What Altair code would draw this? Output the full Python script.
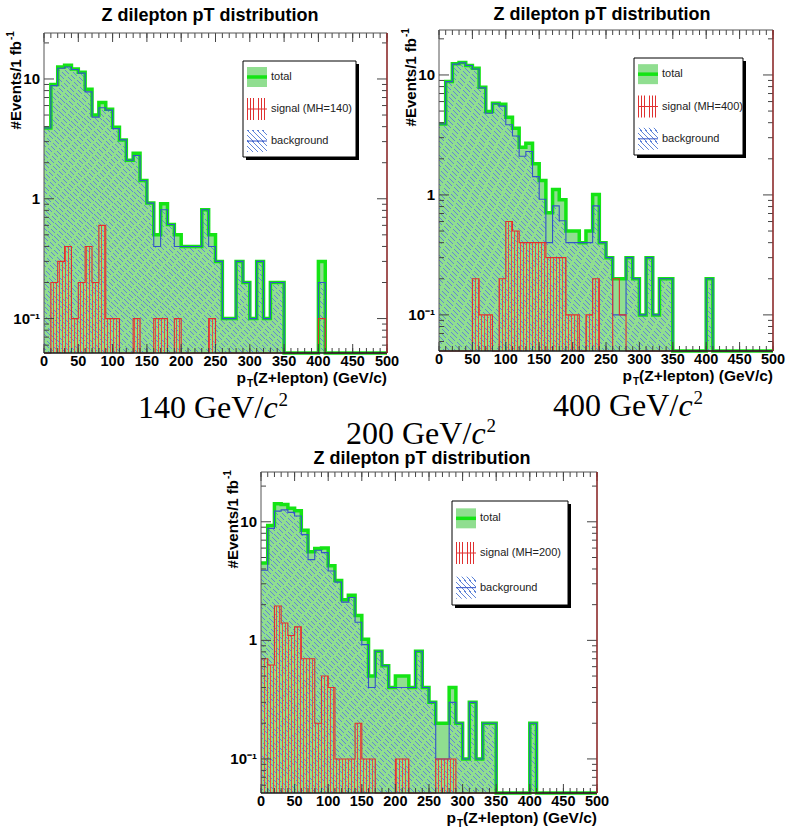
import altair as alt
import pandas as pd

# ---------------- data ----------------
bin_edges = list(range(0, 500, 10))

background = [3.9, 8.8, 12.3, 12.6, 12.0, 11.2, 7.8, 4.8, 5.75, 5.5,
              3.85, 3.1, 2.1, 2.3, 1.42, 0.92, 0.4, 0.81, 0.61, 0.4,
              0.4, 0.4, 0.4, 0.81, 0.4, 0.3, 0.1, 0.1, 0.3, 0.2,
              0.1, 0.3, 0.1, 0.2, 0.2, 0, 0, 0, 0, 0,
              0.2, 0, 0, 0, 0, 0, 0, 0, 0, 0]

signal_140 = [0, 0.2, 0.3, 0.4, 0.1, 0.2, 0.4, 0.2, 0.6, 0.1,
              0.1, 0, 0, 0.1, 0, 0, 0.1, 0.1, 0, 0.1,
              0, 0, 0, 0, 0.1, 0, 0, 0, 0, 0,
              0, 0, 0, 0, 0, 0, 0, 0, 0, 0,
              0.1, 0, 0, 0, 0, 0, 0, 0, 0, 0]
total_140 = [3.9, 9.0, 12.6, 13.0, 12.1, 11.4, 8.2, 5.0, 6.35, 5.6,
             3.95, 3.1, 2.1, 2.4, 1.42, 0.92, 0.5, 0.91, 0.61, 0.5,
             0.4, 0.4, 0.4, 0.81, 0.5, 0.3, 0.1, 0.1, 0.3, 0.2,
             0.1, 0.3, 0.1, 0.2, 0.2, 0, 0, 0, 0, 0,
             0.3, 0, 0, 0, 0, 0, 0, 0, 0, 0]

signal_400 = [0, 0, 0, 0, 0, 0.2, 0.1, 0.1, 0, 0.2,
              0.6, 0.5, 0.4, 0.4, 0.4, 0.4, 0.3, 0.3, 0.3, 0.1,
              0.1, 0, 0.1, 0.2, 0, 0, 0.2, 0.1, 0, 0,
              0, 0, 0, 0, 0, 0, 0, 0, 0, 0,
              0, 0, 0, 0, 0, 0, 0, 0, 0, 0]
total_400 = [3.9, 8.8, 12.4, 12.7, 12.0, 11.4, 7.9, 4.95, 5.8, 5.7,
             4.45, 3.6, 2.5, 2.7, 1.82, 1.32, 0.71, 1.11, 0.91, 0.5,
             0.5, 0.4, 0.5, 1.01, 0.4, 0.3, 0.2, 0.2, 0.3, 0.2,
             0.1, 0.3, 0.1, 0.2, 0.2, 0, 0, 0, 0, 0,
             0.2, 0, 0, 0, 0, 0, 0, 0, 0, 0]

signal_200 = [0.7, 0.62, 1.95, 1.4, 1.1, 1.3, 0.7, 0.7, 0.2, 0.5,
              0.4, 0.1, 0.1, 0.1, 0.2, 0.1, 0.1, 0, 0, 0,
              0.1, 0.1, 0, 0, 0, 0, 0.1, 0.1, 0.1, 0,
              0, 0, 0, 0, 0, 0, 0, 0, 0, 0,
              0, 0, 0, 0, 0, 0, 0, 0, 0, 0]
total_200 = [4.5, 9.3, 14.2, 14.0, 13.0, 12.4, 8.5, 5.6, 5.95, 6.0,
             4.25, 3.2, 2.2, 2.4, 1.62, 1.02, 0.5, 0.81, 0.61, 0.4,
             0.5, 0.5, 0.4, 0.81, 0.4, 0.3, 0.2, 0.2, 0.4, 0.2,
             0.1, 0.3, 0.1, 0.2, 0.2, 0, 0, 0, 0, 0,
             0.2, 0, 0, 0, 0, 0, 0, 0, 0, 0]

x_major = [0, 50, 100, 150, 200, 250, 300, 350, 400, 450, 500]
x_major_labels = ["0", "50", "100", "150", "200", "250", "300", "350", "400", "450", "500"]
x_minor = list(range(0, 501, 10))
y_major = [0.1, 1, 10]
y_major_labels = ["10\u207b\u00b9", "1", "10"]
y_minor = [0.06, 0.07, 0.08, 0.09, 0.2, 0.3, 0.4, 0.5, 0.6, 0.7, 0.8, 0.9,
           2, 3, 4, 5, 6, 7, 8, 9, 20]
legend_labels = ["total", "signal (MH={m})", "background"]
plot_title = "Z dilepton pT distribution"

# ---------------- style ----------------
SANS = "Liberation Sans"
SERIF = "Liberation Serif"
GREEN_FILL = "#90de90"
GREEN_LINE = "#14e414"
BLUE = "#3454c8"
HATCH_BLUE = "#5f84d8"
HATCH_RED = "#e8503c"
RED = "#e03030"
TICK = "#444444"
CLEAR = "rgba(255,255,255,0)"


def stripes(color, n, frac, x1, y1, x2, y2):
    stops = []
    for i in range(n):
        a = round(i / n, 6)
        b = round((i + frac) / n, 6)
        c = round((i + 1) / n, 6)
        stops += [alt.GradientStop(color=color, offset=a),
                  alt.GradientStop(color=color, offset=b),
                  alt.GradientStop(color=CLEAR, offset=b),
                  alt.GradientStop(color=CLEAR, offset=c)]
    return alt.LinearGradient(gradient="linear", stops=stops, x1=x1, y1=y1, x2=x2, y2=y2)


def one():
    return pd.DataFrame({"k": [0]})


def vtext(text, x, y, **kw):
    return alt.Chart(one()).mark_text(text=text, **kw).encode(x=alt.value(x), y=alt.value(y))


def vrect(x, x2, y, y2, **kw):
    return alt.Chart(one()).mark_rect(**kw).encode(
        x=alt.value(x), x2=alt.value(x2), y=alt.value(y), y2=alt.value(y2))


def vrule(x, x2, y, y2, **kw):
    return alt.Chart(one()).mark_rule(**kw).encode(
        x=alt.value(x), x2=alt.value(x2), y=alt.value(y), y2=alt.value(y2))


panels = [
    dict(mass="140", signal=signal_140, total=total_140, x0=44, x1=387, y0=33, y1=353,
         ymin=0.0516, ymax=24.2, title_x=210, title_y=16, leg=(243, 61, 356, 157), cap=(138, 418)),
    dict(mass="400", signal=signal_400, total=total_400, x0=439, x1=773, y0=30, y1=351,
         ymin=0.050, ymax=23.7, title_x=602, title_y=15, leg=(634, 58, 743, 155), cap=(553, 416)),
    dict(mass="200", signal=signal_200, total=total_200, x0=261, x1=597, y0=472, y1=793,
         ymin=0.0516, ymax=26.3, title_x=422, title_y=459, leg=(452, 501, 568, 605), cap=(346, 444)),
]


def panel(p):
    x0, x1, y0, y1 = p["x0"], p["x1"], p["y0"], p["y1"]
    W = x1 - x0
    xs = alt.Scale(domain=[0, 500], range=[x0, x1], nice=False, zero=False)
    ys = alt.Scale(type="log", domain=[p["ymin"], p["ymax"]], range=[y1, y0], nice=False)

    def X(f):
        return alt.X(f, type="quantitative", scale=xs, axis=None)

    def Y(f):
        return alt.Y(f, type="quantitative", scale=ys, axis=None)

    def hist(vals):
        return pd.DataFrame({"x": bin_edges + [500], "v": vals + [vals[-1]]})

    calc = dict(vp=f"max(datum.v, {p['ymin']})", base=f"{p['ymin']}")

    def area(vals, fill):
        return alt.Chart(hist(vals)).transform_calculate(**calc).mark_area(
            interpolate="step-after", fill=fill).encode(x=X("x"), y=Y("vp"), y2=alt.Y2("base"))

    def line(vals, color, width):
        return alt.Chart(hist(vals)).transform_calculate(**calc).mark_line(
            interpolate="step-after", color=color, strokeWidth=width).encode(x=X("x"), y=Y("vp"))

    L = []
    L.append(area(p["total"], GREEN_FILL))
    L.append(area(background, stripes(HATCH_BLUE, int(2 * W / 5.5), 0.15, 0, 1, 1, 0)))
    L.append(area(p["signal"], stripes(HATCH_RED, int(W / 3), 0.2, 0, 0, 1, 0)))
    L.append(line(p["total"], GREEN_LINE, 3.5))
    L.append(line(background, BLUE, 1.1))
    L.append(line(p["signal"], RED, 1.1))

    # ticks (inward, ROOT style)
    xmin_df = pd.DataFrame({"x": x_minor})
    xmaj_df = pd.DataFrame({"x": x_major})
    for df, ln in ((xmin_df, 5), (xmaj_df, 9)):
        L.append(alt.Chart(df).mark_rule(color=TICK, strokeWidth=1).encode(
            x=X("x"), y=alt.value(y1), y2=alt.value(y1 - ln)))
        L.append(alt.Chart(df).mark_rule(color=TICK, strokeWidth=1).encode(
            x=X("x"), y=alt.value(y0), y2=alt.value(y0 + ln)))
    ymin_df = pd.DataFrame({"y": y_minor})
    ymaj_df = pd.DataFrame({"y": y_major})
    for df, ln in ((ymin_df, 5), (ymaj_df, 10)):
        L.append(alt.Chart(df).mark_rule(color=TICK, strokeWidth=1).encode(
            y=Y("y"), x=alt.value(x0), x2=alt.value(x0 + ln)))
        L.append(alt.Chart(df).mark_rule(color=TICK, strokeWidth=1).encode(
            y=Y("y"), x=alt.value(x1), x2=alt.value(x1 - ln)))

    # frame
    L.append(vrect(x0, x1, y0, y1, fillOpacity=0, stroke="#555555", strokeWidth=1))
    L.append(vrule(x0, x1, y1, y1, color="black", strokeWidth=1.2))
    L.append(vrule(x1, x1, y0, y1, color="#a02828", strokeWidth=1.3))

    # tick labels
    xl = pd.DataFrame({"x": x_major, "t": x_major_labels})
    L.append(alt.Chart(xl).mark_text(font=SANS, fontSize=14.5, fontWeight="bold", align="center",
                                     baseline="middle", color="black").encode(
        x=X("x"), y=alt.value(y1 + 9), text="t:N"))
    yl = pd.DataFrame({"y": y_major, "t": y_major_labels})
    L.append(alt.Chart(yl).mark_text(font=SANS, fontSize=15, fontWeight="bold", align="right",
                                     baseline="middle", color="black").encode(
        y=Y("y"), x=alt.value(x0 - 4), text="t:N"))

    # titles
    L.append(vtext(plot_title, p["title_x"], p["title_y"], font=SANS, fontSize=18,
                   fontWeight="bold", align="center", baseline="middle", color="black"))
    L.append(vtext("#Events/1 fb", x0 - 28, y0 + 8, font=SANS, fontSize=15, fontWeight="bold",
                   angle=270, align="right", baseline="middle", color="black"))
    L.append(vtext("-1", x0 - 33, y0 + 7, font=SANS, fontSize=10, fontWeight="bold",
                   angle=270, align="left", baseline="middle", color="black"))
    L.append(vtext("(Z+lepton) (GeV/c)", x1, y1 + 25, font=SANS, fontSize=15.5, fontWeight="bold",
                   align="right", baseline="middle", color="black"))
    L.append(vtext("T", x1 - 134, y1 + 31, font=SANS, fontSize=10, fontWeight="bold",
                   align="right", baseline="middle", color="black"))
    L.append(vtext("p", x1 - 141, y1 + 25, font=SANS, fontSize=15.5, fontWeight="bold",
                   align="right", baseline="middle", color="black"))

    # legend
    bx, by, bx2, by2 = p["leg"]
    bh = by2 - by
    L.append(vrect(bx + 3, bx2 + 3, by + 3, by2 + 3, fill="black"))
    L.append(vrect(bx, bx2, by, by2, fill="white", stroke="black", strokeWidth=1))
    rows = [by + bh / 6, by + bh / 2, by + 5 * bh / 6]
    r = rows[0]
    L.append(vrect(bx + 4, bx + 24, r - 10, r + 10, fill=GREEN_FILL))
    L.append(vrule(bx + 4, bx + 24, r, r, color=GREEN_LINE, strokeWidth=3.5))
    r = rows[1]
    L.append(vrect(bx + 4, bx + 24, r - 11, r + 11, fill=stripes(RED, 7, 0.3, 0, 0, 1, 0)))
    L.append(vrule(bx + 4, bx + 24, r, r, color=RED, strokeWidth=1))
    r = rows[2]
    L.append(vrect(bx + 4, bx + 24, r - 11, r + 11, fill=stripes(HATCH_BLUE, 8, 0.22, 0, 1, 1, 0)))
    L.append(vrule(bx + 4, bx + 24, r, r, color=BLUE, strokeWidth=1))
    for r, lab in zip(rows, legend_labels):
        L.append(vtext(lab.format(m=p["mass"]), bx + 28, r, font=SANS, fontSize=11,
                       align="left", baseline="middle", color="#222222"))

    # caption under the panel
    cx, cy = p["cap"]
    L.append(vtext(f"{p['mass']} GeV/", cx, cy, font=SERIF, fontSize=32, align="left",
                   baseline="alphabetic", color="black"))
    L.append(vtext("c", cx + 125.5, cy, font=SERIF, fontSize=32, fontStyle="italic",
                   align="left", baseline="alphabetic", color="black"))
    L.append(vtext("2", cx + 140.5, cy - 12, font=SERIF, fontSize=19, align="left",
                   baseline="alphabetic", color="black"))
    return L


layers = []
for p in panels:
    layers += panel(p)

chart = alt.layer(*layers).resolve_scale(
    x="independent", y="independent"
).properties(
    width=802, height=831, padding=0,
    autosize=alt.AutoSizeParams(type="none"), background="white"
).configure_view(strokeOpacity=0)

chart.save("out.html", embed_options={"renderer": "svg", "actions": False})
